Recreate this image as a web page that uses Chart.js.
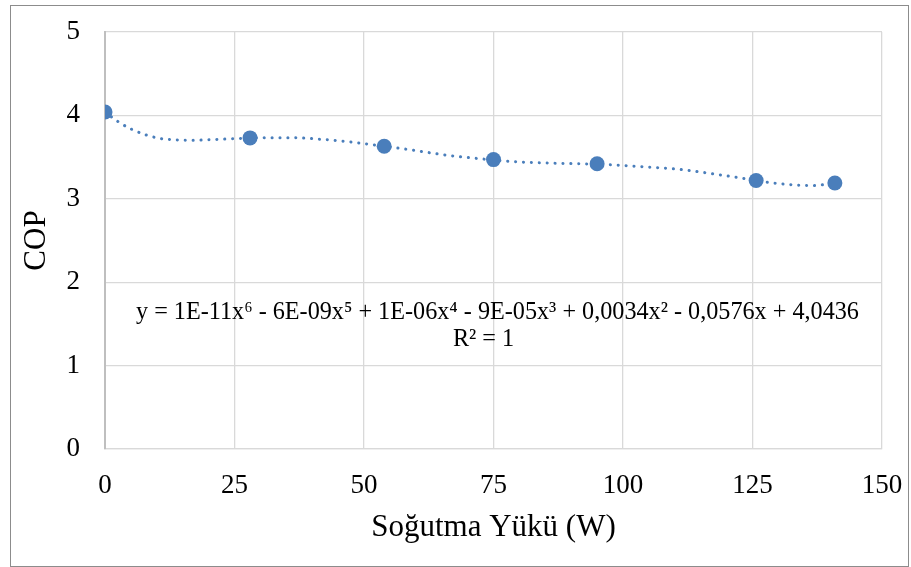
<!DOCTYPE html>
<html>
<head>
<meta charset="utf-8">
<script src="https://cdn.jsdelivr.net/npm/chart.js@4.4.1/dist/chart.umd.min.js"></script>
<style>
  html, body { margin: 0; padding: 0; background: #ffffff; }
  #wrap { position: relative; width: 911px; height: 567px; }
  #c { position: absolute; left: 0; top: 0; }
  #frame { position: absolute; left: 10px; top: 5px; width: 897px; height: 560px; border: 1px solid #8c8c8c; pointer-events: none; }
</style>
</head>
<body>
<div id="wrap">
  <canvas id="c" width="911" height="567"></canvas>
  <div id="frame"></div>
</div>
<script>
// Measured points
const loadW = [0, 28, 53.9, 75, 95, 125.7, 140.9];
const copValues = [4.04, 3.73, 3.63, 3.47, 3.42, 3.22, 3.19];

// Trendline
const trendX = [0, 2.3, 5.0, 7.9, 10.8, 13.9, 17.0, 20.8, 25.5, 31.5, 35.7, 41.7, 47.9, 53.9, 59.5, 65.6, 72.8, 78.8, 84.9, 92.3, 98.1, 104.4, 111.4, 117.4, 123.6, 127.8, 133.8, 136.9, 138.4, 140.9];
const trendY = [4.04, 3.934, 3.838, 3.766, 3.722, 3.706, 3.702, 3.710, 3.722, 3.733, 3.733, 3.714, 3.678, 3.630, 3.583, 3.526, 3.478, 3.446, 3.430, 3.418, 3.406, 3.382, 3.350, 3.299, 3.242, 3.199, 3.163, 3.158, 3.167, 3.194];

const xTicks = [0, 25, 50, 75, 100, 125, 150];
const yTicks = [0, 1, 2, 3, 4, 5];

const xTitle = 'Soğutma Yükü (W)';
const yTitle = 'COP';
const eqLine1 = 'y = 1E-11x⁶ - 6E-09x⁵ + 1E-06x⁴ - 9E-05x³ + 0,0034x² - 0,0576x + 4,0436';
const eqLine2 = 'R² = 1';

const FONT = '"Liberation Serif", "Times New Roman", serif';
const BLUE = '#4a7ebb';

const eqPlugin = {
  id: 'eq',
  afterDatasetsDraw(chart) {
    const ctx = chart.ctx;
    const xs = chart.scales.x, ys = chart.scales.y;
    ctx.save();
    ctx.fillStyle = '#000';
    ctx.font = '24.2px ' + FONT;
    ctx.textAlign = 'center';
    ctx.textBaseline = 'middle';
    const cx = (xs.left + xs.right) / 2 + 4;
    ctx.fillText(eqLine1, cx, ys.getPixelForValue(1.63));
    ctx.fillText(eqLine2, cx - 14, ys.getPixelForValue(1.31));
    ctx.restore();
  }
};

function noPad(scale) {
  scale.paddingLeft = 0; scale.paddingRight = 0;
  scale.paddingTop = 0; scale.paddingBottom = 0;
}

new Chart(document.getElementById('c'), {
  type: 'scatter',
  data: {
    datasets: [
      {
        label: 'Trend',
        data: trendX.map((x, i) => ({x: x, y: trendY[i]})),
        showLine: true,
        borderColor: BLUE,
        borderWidth: 3,
        borderDash: [0.1, 7.8],
        borderCapStyle: 'round',
        cubicInterpolationMode: 'monotone',
        pointRadius: 0,
        order: 2
      },
      {
        label: 'COP',
        data: loadW.map((x, i) => ({x: x, y: copValues[i]})),
        showLine: false,
        pointRadius: 7.5,
        pointBackgroundColor: BLUE,
        pointBorderColor: BLUE,
        pointBorderWidth: 0,
        order: 1
      }
    ]
  },
  options: {
    responsive: false,
    animation: false,
    devicePixelRatio: 1,
    layout: { padding: { left: 10, right: 29, top: 32, bottom: 0 } },
    plugins: { legend: { display: false }, tooltip: { enabled: false } },
    scales: {
      x: {
        type: 'linear',
        min: 0, max: 150,
        afterBuildTicks(scale) { scale.ticks = xTicks.map(v => ({value: v})); },
        afterFit(scale) { scale.height = 118; noPad(scale); },
        grid: { color: '#d9d9d9', lineWidth: 1.3, drawTicks: false },
        border: { display: true, color: '#d9d9d9', width: 1.3 },
        ticks: { color: '#000', padding: 21, font: { family: FONT, size: 27 } },
        title: { display: true, text: xTitle, color: '#000', font: { family: FONT, size: 31 }, padding: { top: 0, bottom: 21 } }
      },
      y: {
        type: 'linear',
        min: 0, max: 5,
        afterBuildTicks(scale) { scale.ticks = yTicks.map(v => ({value: v})); },
        afterFit(scale) { scale.width = 95; noPad(scale); },
        grid: { color: '#d9d9d9', lineWidth: 1.3, drawTicks: false },
        border: { display: true, color: '#bfbfbf', width: 2 },
        ticks: { color: '#000', padding: 25, font: { family: FONT, size: 27 } },
        title: { display: true, text: yTitle, color: '#000', font: { family: FONT, size: 31 }, padding: { top: 8, bottom: 0 } }
      }
    }
  },
  plugins: [eqPlugin]
});
</script>
</body>
</html>
